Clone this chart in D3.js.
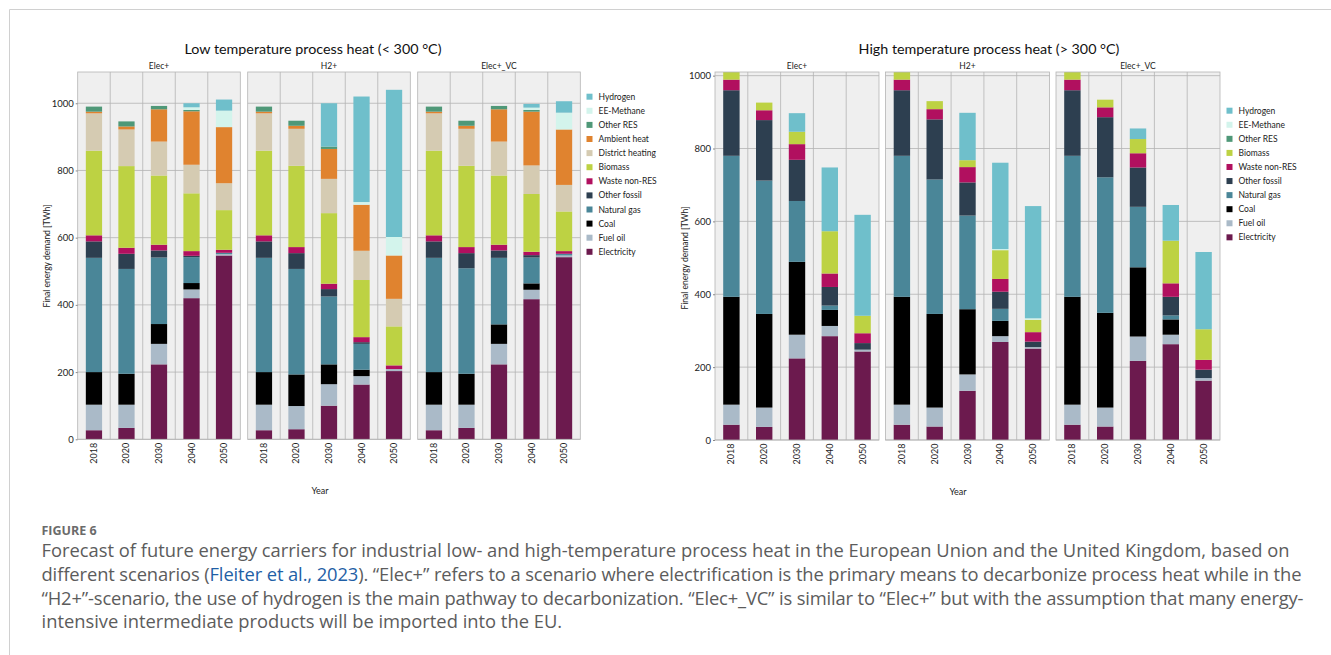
<!DOCTYPE html>
<html><head><meta charset="utf-8">
<script src="https://cdn.jsdelivr.net/npm/d3@7"></script>
<style>
body{margin:0;background:#fff;}
svg{display:block;}
</style></head>
<body><svg id="c" width="1331" height="655"></svg>
<script>
// ---------------- DATA ----------------
const years = ["2018","2020","2030","2040","2050"];
const scenarios = ["Elec+","H2+","Elec+_VC"];
const yTicks = [0,200,400,600,800,1000];

// Low temperature carriers (stack order bottom -> top)
const lowCarriers = ["Electricity","Fuel oil","Coal","Natural gas","Other fossil","Waste non-RES","Biomass","District heating","Ambient heat","Other RES","EE-Methane","Hydrogen"];
// values: Elec+ (5 years), H2+ (5 years), Elec+_VC (5 years)
const lowElectricity    = [27,34,223,420,547,   27,30,100,163,203,   27,34,223,417,542];
const lowFuelOil        = [76,69,61,26,4,       76,69,64,25,6,       76,69,61,28,5];
const lowCoal           = [97,92,59,19,0,       97,94,59,19,0,       97,92,58,19,0];
const lowNaturalGas     = [340,312,198,77,4,    340,314,202,77,0,    340,314,198,77,5];
const lowOtherFossil    = [49,45,21,4,0,        49,47,22,5,0,        49,45,22,7,0];
const lowWaste          = [18,18,17,14,9,       18,18,16,15,11,      18,18,17,10,8];
const lowBiomass        = [252,243,206,172,118, 252,242,210,170,116, 252,242,206,172,118];
const lowDistrictHeat   = [111,109,101,85,80,   111,110,102,87,82,   111,110,101,85,79];
const lowAmbientHeat    = [5,9,96,159,167,      5,9,89,137,129,      5,9,96,160,165];
const lowOtherRES       = [15,15,10,4,0,        15,15,7,0,0,         15,15,10,5,0];
const lowEEMethane      = [0,0,0,8,49,          0,0,0,8,55,          0,0,0,7,50];
const lowHydrogen       = [0,0,0,12,33,         0,0,129,314,438,     0,0,0,11,34];

// High temperature carriers (stack order bottom -> top)
const highCarriers = ["Electricity","Fuel oil","Coal","Natural gas","Other fossil","Waste non-RES","Biomass","Other RES","EE-Methane","Hydrogen"];
const highElectricity   = [42,36,224,285,243,   42,37,135,269,251,   42,37,217,263,163];
const highFuelOil       = [55,53,65,28,5,       55,52,45,16,4,       55,52,67,26,7];
const highCoal          = [296,257,200,44,0,    296,257,179,42,0,    296,260,190,42,0];
const highNaturalGas    = [387,366,167,12,0,    387,369,257,33,0,    387,372,166,11,0];
const highOtherFossil   = [180,166,113,51,18,   180,165,91,47,15,    180,165,108,51,23];
const highWaste         = [29,27,43,37,27,      29,28,42,35,26,      29,27,39,37,27];
const highBiomass       = [22,21,34,116,48,     22,22,19,79,34,      22,21,39,117,84];
const highOtherRES      = [0,0,0,0,0,           0,0,0,0,0,           0,0,0,0,0];
const highEEMethane     = [0,0,0,0,0,           0,0,0,3,4,           0,0,0,0,0];
const highHydrogen      = [0,0,51,175,277,      0,0,130,237,308,     0,0,29,98,212];

const colors = {
  "Hydrogen":"#6fbfcb","EE-Methane":"#d3f4ec","Other RES":"#4f9878","Ambient heat":"#e0832f",
  "District heating":"#d5cbb2","Biomass":"#bdd243","Waste non-RES":"#b1105f","Other fossil":"#2d3f50",
  "Natural gas":"#4a8698","Coal":"#000000","Fuel oil":"#aabac8","Electricity":"#6c1a4e"
};

const lowSeries = {"Electricity":lowElectricity,"Fuel oil":lowFuelOil,"Coal":lowCoal,"Natural gas":lowNaturalGas,
  "Other fossil":lowOtherFossil,"Waste non-RES":lowWaste,"Biomass":lowBiomass,"District heating":lowDistrictHeat,
  "Ambient heat":lowAmbientHeat,"Other RES":lowOtherRES,"EE-Methane":lowEEMethane,"Hydrogen":lowHydrogen};
const highSeries = {"Electricity":highElectricity,"Fuel oil":highFuelOil,"Coal":highCoal,"Natural gas":highNaturalGas,
  "Other fossil":highOtherFossil,"Waste non-RES":highWaste,"Biomass":highBiomass,"Other RES":highOtherRES,
  "EE-Methane":highEEMethane,"Hydrogen":highHydrogen};

// ---------------- DRAW ----------------
const svg = d3.select("#c");
svg.append("rect").attr("width",1331).attr("height",655).attr("fill","#fff");
// outer frame
svg.append("path").attr("d","M9.5,655 V9.5 H1331").attr("fill","none").attr("stroke","#d0d0d0").attr("stroke-width",1);

const FONT = "Lato, 'Open Sans', sans-serif";
let clipId = 0;

function drawChart(cfg){
  const g = svg.append("g");
  const y = d3.scaleLinear().domain([0,cfg.yMax]).range([cfg.bottom,cfg.top]);
  scenarios.forEach((sc,si)=>{
    const x0 = cfg.panelX[si];
    const x = d3.scaleBand().domain(years).range([x0,x0+cfg.panelW]).paddingInner(0).paddingOuter(0);
    const pg = g.append("g");
    pg.append("rect").attr("x",x0).attr("y",cfg.top).attr("width",cfg.panelW).attr("height",cfg.bottom-cfg.top)
      .attr("fill","#efefef");
    pg.selectAll(".hg").data(yTicks).join("line")
      .attr("x1",x0).attr("x2",x0+cfg.panelW).attr("y1",d=>y(d)).attr("y2",d=>y(d))
      .attr("stroke","#b4b4b4").attr("stroke-width",0.8);
    pg.selectAll(".vg").data(years.slice(1)).join("line")
      .attr("x1",d=>x(d)).attr("x2",d=>x(d)).attr("y1",cfg.top).attr("y2",cfg.bottom)
      .attr("stroke","#b4b4b4").attr("stroke-width",0.8);
    const rows = years.map((yr,yi)=>{
      const o={year:yr};
      cfg.carriers.forEach(c=>{o[c]=cfg.series[c][si*5+yi];});
      return o;
    });
    const stack = d3.stack().keys(cfg.carriers)(rows);
    const cid = "clip"+(clipId++);
    pg.append("clipPath").attr("id",cid).append("rect")
      .attr("x",x0).attr("y",cfg.top).attr("width",cfg.panelW).attr("height",cfg.bottom-cfg.top);
    const bw = x.bandwidth()*0.5;
    const bars = pg.append("g").attr("clip-path","url(#"+cid+")");
    stack.forEach(layer=>{
      bars.selectAll(null).data(layer.filter(d=>d[1]-d[0]>0)).join("rect")
        .attr("x",d=>x(d.data.year)+(x.bandwidth()-bw)/2)
        .attr("width",bw)
        .attr("y",d=>y(d[1]))
        .attr("height",d=>y(d[0])-y(d[1]))
        .attr("fill",colors[layer.key]);
    });
    pg.append("rect").attr("x",x0).attr("y",cfg.top).attr("width",cfg.panelW).attr("height",cfg.bottom-cfg.top)
      .attr("fill","none").attr("stroke","#b4b4b4").attr("stroke-width",0.8);
    pg.append("text").attr("x",x0+cfg.panelW/2).attr("y",cfg.top-3.5).attr("text-anchor","middle")
      .attr("font-family",FONT).attr("font-size",8.5).attr("fill","#222").text(sc);
    pg.selectAll(".xl").data(years).join("text")
      .attr("transform",d=>`translate(${x(d)+x.bandwidth()/2+3},${cfg.bottom+3.5}) rotate(-90)`)
      .attr("text-anchor","end").attr("font-family",FONT).attr("font-size",9).attr("fill","#222").text(d=>d);
    if(si===0){
      const ax = d3.axisLeft(y).tickValues(yTicks).tickFormat(d3.format("d")).tickSize(2).tickPadding(2);
      const ag = pg.append("g").attr("transform",`translate(${x0},0)`).call(ax);
      ag.select(".domain").remove();
      ag.selectAll("line").attr("stroke","#888");
      ag.selectAll("text").attr("font-family",FONT).attr("font-size",9.5).attr("fill","#222");
    }
  });
  g.append("text").attr("x",cfg.titleX).attr("y",54).attr("text-anchor","middle")
    .attr("font-family",FONT).attr("font-size",14.3).attr("fill","#111").text(cfg.title);
  g.append("text").attr("transform",`translate(${cfg.ylabX},${cfg.ylabY}) rotate(-90)`).attr("text-anchor","middle")
    .attr("font-family",FONT).attr("font-size",8.5).attr("fill","#222").text("Final energy demand [TWh]");
  g.append("text").attr("x",cfg.xlabX).attr("y",cfg.xlabY).attr("text-anchor","middle")
    .attr("font-family",FONT).attr("font-size",9).attr("fill","#222").text("Year");
  const leg = cfg.carriers.slice().reverse();
  const lg = g.append("g");
  leg.forEach((c,i)=>{
    const yy = cfg.legY + i*cfg.legStep;
    lg.append("rect").attr("x",cfg.legX).attr("y",yy-3).attr("width",6).attr("height",6).attr("fill",colors[c]);
    lg.append("text").attr("x",cfg.legX+12).attr("y",yy+3).attr("font-family",FONT).attr("font-size",8.5)
      .attr("fill","#222").text(c);
  });
}

drawChart({carriers:lowCarriers, series:lowSeries, yMax:1093, top:72, bottom:439.3,
  panelX:[77.7,247.7,417.7], panelW:162.6, title:"Low temperature process heat (< 300 °C)", titleX:313,
  ylabX:50, ylabY:256, xlabX:320, xlabY:494, legX:586.5, legY:96.7, legStep:14.1});
drawChart({carriers:highCarriers, series:highSeries, yMax:1010, top:72, bottom:440,
  panelX:[715,885.5,1056], panelW:164, title:"High temperature process heat (> 300 °C)", titleX:989,
  ylabX:688, ylabY:258, xlabX:958, xlabY:495, legX:1226.5, legY:110.7, legStep:14.07});

// ---------------- CAPTION ----------------
const capFont = "'Open Sans', Lato, sans-serif";
svg.append("text").attr("x",41.5).attr("y",534.5).attr("font-family",capFont).attr("font-weight",700)
  .attr("font-size",12.5).attr("fill","#6b6b6b").text("FIGURE 6");
const capLines = [
  [["Forecast of future energy carriers for industrial low- and high-temperature process heat in the European Union and the United Kingdom, based on",false]],
  [["different scenarios (",false],["Fleiter et al., 2023",true],["). “Elec+” refers to a scenario where electrification is the primary means to decarbonize process heat while in the",false]],
  [["“H2+”-scenario, the use of hydrogen is the main pathway to decarbonization. “Elec+_VC” is similar to “Elec+” but with the assumption that many energy-",false]],
  [["intensive intermediate products will be imported into the EU.",false]]
];
const capY = [557,581,604.5,628];
const capWidths = [1249,1260,1262,null];
const capTexts = capLines.map((parts,i)=>{
  const t = svg.append("text").attr("x",41.5).attr("y",capY[i]).attr("font-family",capFont)
    .attr("font-size",16).attr("fill","#5c5c5c");
  parts.forEach(p=>{
    t.append("tspan").attr("fill",p[1]?"#1f5fa6":"#5c5c5c").text(p[0]);
  });
  return t;
});
// fit font size so the first line spans the same width as in the figure
const w0 = capTexts[0].node().getComputedTextLength();
const fs = 16*1249/w0;
capTexts.forEach((t,i)=>{
  t.attr("font-size",fs);
  if(i>0 && capWidths[i]) t.attr("textLength",capWidths[i]).attr("lengthAdjust","spacing");
});
</script></body></html>
